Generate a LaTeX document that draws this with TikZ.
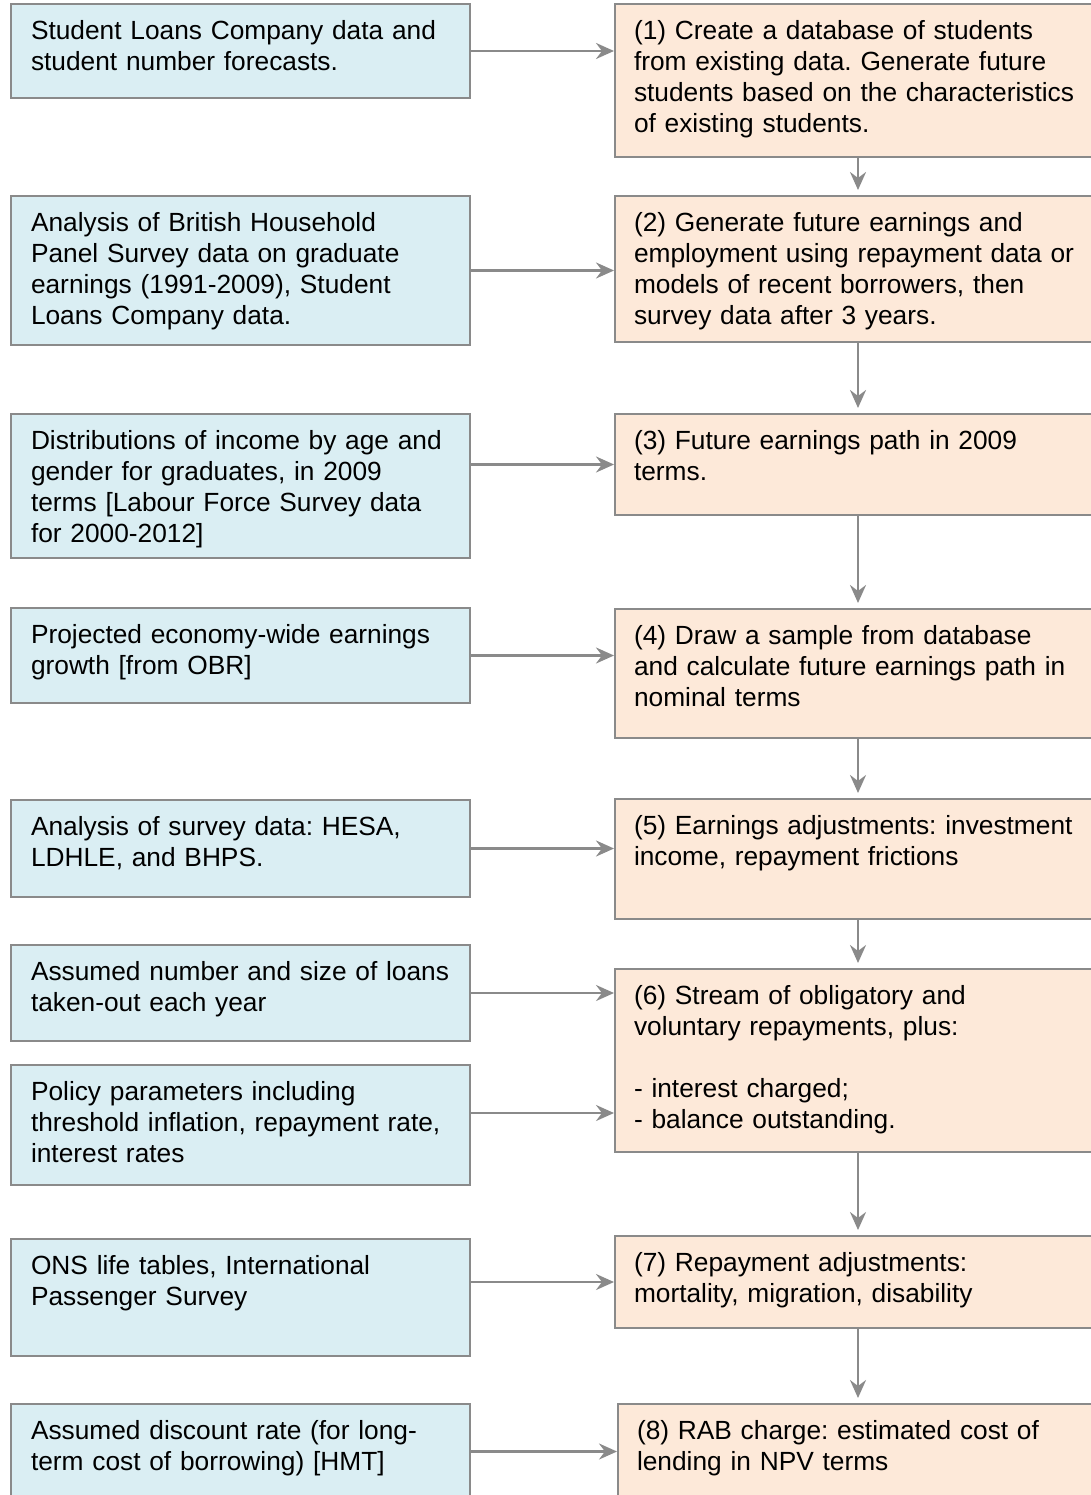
\documentclass[tikz,border=0pt]{standalone}
\usepackage{fontspec}
\setmainfont{Liberation Sans}
\frenchspacing
\usetikzlibrary{arrows.meta}
\definecolor{inblue}{HTML}{DAEEF3}
\definecolor{stagefill}{HTML}{FDE9D9}
\definecolor{edgegray}{HTML}{8A8A8A}
\tikzset{
  box/.style={draw=edgegray, line width=2pt, anchor=north west, align=left,
    inner xsep=20pt, inner ysep=16.5pt, text height=19pt,
    font=\fontsize{26.3pt}{31pt}\selectfont},
  src/.style={box, fill=inblue, text width=419pt},
  stage/.style={box, fill=stagefill, inner xsep=19pt, text width=448pt},
  flow/.style={draw=edgegray, line width=2.5pt,
    -{Stealth[length=18pt,width=16pt,inset=6pt]}},
  down/.style={flow, shorten >=5pt}
}
\begin{document}
\begin{tikzpicture}[x=1pt,y=-1pt]
  \useasboundingbox (0,0) rectangle (1091,1495);
  \clip (0,0) rectangle (1091,1495);
  % inputs
  \node[src, text depth=42pt] (s1) at (10,3) {Student Loans Company data and\\student number forecasts.};
  \node[src, text depth=97pt] (s2) at (10,195) {Analysis of British Household\\Panel Survey data on graduate\\earnings (1991-2009), Student\\Loans Company data.};
  \node[src, text depth=92pt] (s3) at (10,413) {Distributions of income by age and\\gender for graduates, in 2009\\terms [Labour Force Survey data\\for 2000-2012]};
  \node[src, text depth=43pt] (s4) at (10,607) {Projected economy-wide earnings\\growth [from OBR]};
  \node[src, text depth=45pt] (s5) at (10,799) {Analysis of survey data: HESA,\\LDHLE, and BHPS.};
  \node[src, text depth=44pt] (s6) at (10,944) {Assumed number and size of loans\\taken-out each year};
  \node[src, text depth=68pt] (s7) at (10,1064) {Policy parameters including\\threshold inflation, repayment rate,\\interest rates};
  \node[src, text depth=65pt] (s8) at (10,1238) {ONS life tables, International\\Passenger Survey};
  \node[src, text depth=55pt] (s9) at (10,1403) {Assumed discount rate (for long-\\term cost of borrowing) [HMT]};
  % model stages
  \node[stage, text depth=101pt] (t1) at (614,3) {(1) Create a database of students\\from existing data. Generate future\\students based on the characteristics\\of existing students.};
  \node[stage, text depth=94pt] (t2) at (614,195) {(2) Generate future earnings and\\employment using repayment data or\\models of recent borrowers, then\\survey data after 3 years.};
  \node[stage, text depth=49pt] (t3) at (614,413) {(3) Future earnings path in 2009\\terms.};
  \node[stage, text depth=77pt] (t4) at (614,608) {(4) Draw a sample from database\\and calculate future earnings path in\\nominal terms};
  \node[stage, text depth=68pt] (t5) at (614,798) {(5) Earnings adjustments: investment\\income, repayment frictions};
  \node[stage, text depth=131pt] (t6) at (614,968) {(6) Stream of obligatory and\\voluntary repayments, plus:\\[31pt]- interest charged;\\- balance outstanding.};
  \node[stage, text depth=40pt] (t7) at (614,1235) {(7) Repayment adjustments:\\mortality, migration, disability};
  \node[stage, text depth=55pt] (t8) at (617,1403) {(8) RAB charge: estimated cost of\\lending in NPV terms};
  % connectors
  \begin{scope}
    \draw[flow] (s1.east) -- (s1.east -| t1.west);
    \draw[flow] (s2.east) -- (s2.east -| t2.west);
    \draw[flow] (s3.east |- t3.west) -- (t3.west);
    \draw[flow] (s4.east) -- (s4.east -| t4.west);
    \draw[flow] (s5.east) -- (s5.east -| t5.west);
    \draw[flow] (s6.east) -- (s6.east -| t6.west);
    \draw[flow] ([yshift=12pt]s7.east) coordinate (a7) -- (a7 -| t6.west);
    \draw[flow] (s8.east |- t7.west) -- (t7.west);
    \draw[flow] ([yshift=6pt]s9.east) coordinate (a9) -- (a9 -| t8.west);
    \draw[down] (t1.south) -- (t2.north);
    \draw[down] (t2.south) -- (t3.north);
    \draw[down] (t3.south) -- (t4.north);
    \draw[down] (t4.south) -- (t5.north);
    \draw[down] (t5.south) -- (t6.north);
    \draw[down] (t6.south) -- (t7.north);
    \draw[down] (t7.south) -- (t7.south |- t8.north);
  \end{scope}
\end{tikzpicture}
\end{document}
